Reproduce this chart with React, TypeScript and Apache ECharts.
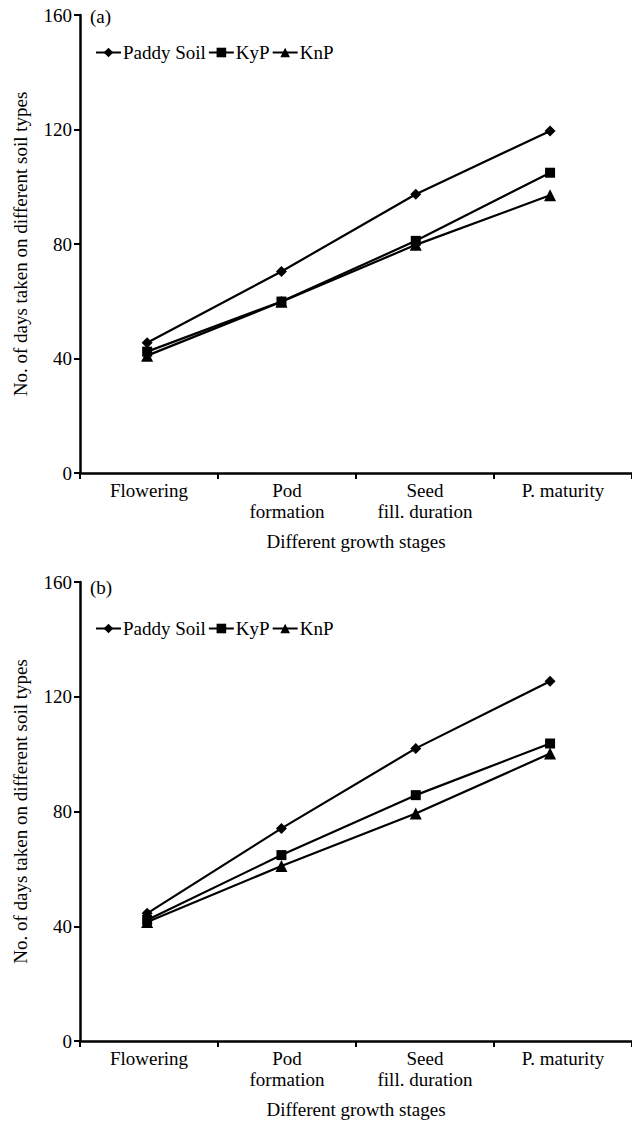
import React, { useEffect, useRef } from "react";
import * as echarts from "echarts";

const categories = ["Flowering", "Pod\nformation", "Seed\nfill. duration", "P. maturity"];
const seriesNames = ["Paddy Soil", "KyP", "KnP"];
const paddyA = [45.5, 70.4, 97.4, 119.5];
const kypA = [42.4, 59.9, 81.1, 104.9];
const knpA = [41, 59.8, 79.7, 97];
const paddyB = [44.5, 74.1, 102, 125.4];
const kypB = [42.2, 64.8, 85.7, 103.7];
const knpB = [41.5, 61, 79.3, 100.2];
const yTicks = { min: 0, max: 160, interval: 40 };
const panelLabels = ["(a)", "(b)"];
const yName = "No. of days taken on different soil types";
const xName = "Different growth stages";

const FONT = "Liberation Serif";
const FS = 19;
const symbols = ["diamond", "rect", "triangle"];
const symbolSizes = [11, 10, 12];

export default function App() {
  const ref = useRef<HTMLDivElement>(null);
  useEffect(() => {
    if (!ref.current) return;
    const chart = echarts.init(ref.current, null, { renderer: "svg" });
    const grids = [
      { left: 80, top: 15, width: 561, height: 458 },
      { left: 80, top: 582, width: 561, height: 459 },
    ];
    const xAxis: any[] = [];
    const yAxis: any[] = [];
    grids.forEach((_, gi) => {
      xAxis.push({
        type: "category",
        gridIndex: gi,
        data: categories,
        boundaryGap: true,
        name: xName,
        nameLocation: "middle",
        nameGap: 59,
        nameTextStyle: { fontFamily: FONT, fontSize: FS, color: "#000" },
        axisLine: { onZero: false, lineStyle: { color: "#000", width: 2.5 } },
        axisTick: { show: true, inside: false, length: 6, lineStyle: { color: "#000", width: 2 } },
        axisLabel: { fontFamily: FONT, fontSize: FS, color: "#000", margin: 7, lineHeight: 21, interval: 0 },
        splitLine: { show: false },
      });
      xAxis.push({
        type: "value",
        gridIndex: gi,
        min: -0.5,
        max: 3.61,
        show: false,
      });
      yAxis.push({
        type: "value",
        gridIndex: gi,
        min: yTicks.min,
        max: yTicks.max,
        interval: yTicks.interval,
        name: yName,
        nameLocation: "middle",
        nameGap: 50,
        nameTextStyle: { fontFamily: FONT, fontSize: FS, color: "#000" },
        axisLine: { show: true, onZero: false, lineStyle: { color: "#000", width: 2.5 } },
        axisTick: { show: true, length: 6, lineStyle: { color: "#000", width: 2 } },
        axisLabel: { fontFamily: FONT, fontSize: FS, color: "#000", margin: 8 },
        splitLine: { show: false },
      });
    });
    const panels = [
      [paddyA, kypA, knpA],
      [paddyB, kypB, knpB],
    ];
    const series: any[] = [];
    panels.forEach((arrs, gi) => {
      arrs.forEach((vals, si) => {
        series.push({
          type: "line",
          name: seriesNames[si],
          xAxisIndex: gi * 2 + 1,
          yAxisIndex: gi,
          data: vals.map((v, i) => [i, v]),
          symbol: symbols[si],
          symbolSize: symbolSizes[si],
          showSymbol: true,
          lineStyle: { color: "#000", width: 2.2 },
          itemStyle: { color: "#000" },
          z: 3 - si,
        });
      });
    });
    const legendBase = {
      left: 90,
      orient: "horizontal",
      itemWidth: 25,
      itemHeight: 12,
      itemGap: 2,
      selectedMode: false,
      data: seriesNames,
      textStyle: { fontFamily: FONT, fontSize: FS, color: "#000", padding: [0, 0, 0, -3] },
    };
    chart.setOption({
      animation: false,
      backgroundColor: "#fff",
      grid: grids,
      xAxis,
      yAxis,
      series,
      legend: [
        { ...legendBase, top: 38 },
        { ...legendBase, top: 614 },
      ],
      graphic: panelLabels.map((t, i) => ({
        type: "text",
        left: 90,
        top: i === 0 ? 7 : 578,
        style: { text: t, fontFamily: FONT, fontSize: FS, fill: "#000" },
      })),
    });
    return () => chart.dispose();
  }, []);
  return (
    <div
      ref={ref}
      style={{ position: "absolute", left: 0, top: 0, width: 632, height: 1122 }}
    />
  );
}
